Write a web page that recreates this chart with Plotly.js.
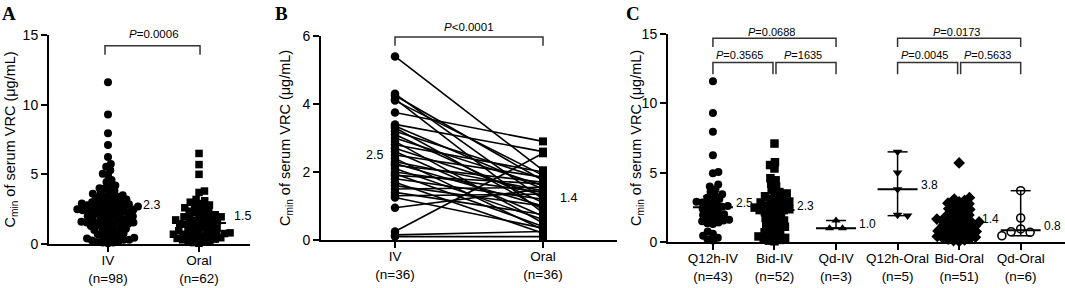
<!DOCTYPE html>
<html><head><meta charset="utf-8">
<script src="https://cdn.plot.ly/plotly-3.0.1.min.js"></script>
<style>html,body{margin:0;padding:0;background:#fff}#chart{width:1065px;height:288px}</style>
</head><body><div id="chart"></div>
<script>
// ---------------- DATA ----------------
// Panel C groups (Panel A = IV groups pooled / Oral groups pooled)
const q12hIV = [11.6, 9.3, 7.95, 6.25, 5.05, 4.95, 4.15, 4.0, 3.8, 3.6, 3.45, 3.35, 3.2, 3.1, 3.0, 2.9, 2.85, 2.75, 2.7, 2.6, 2.55, 2.5, 2.4, 2.3, 2.2, 2.1, 2.0, 1.95, 1.85, 1.8, 1.7, 1.6, 1.55, 1.5, 1.4, 1.35, 1.3, 0.75, 0.6, 0.45, 0.3, 0.2, 0.1];
const bidIV = [7.1, 5.75, 5.55, 5.3, 4.6, 4.45, 4.2, 4.0, 3.75, 3.6, 3.5, 3.4, 3.3, 3.2, 3.1, 3.0, 2.92, 2.85, 2.78, 2.7, 2.62, 2.55, 2.48, 2.42, 2.36, 2.3, 2.3, 2.21, 2.15, 2.0, 1.95, 1.8, 1.74, 1.6, 1.55, 1.45, 1.3, 1.25, 1.1, 1.05, 0.95, 0.85, 0.7, 0.65, 0.55, 0.45, 0.4, 0.3, 0.25, 0.15, 0.1, 0.05];
const qdIV = [1.0, 1.55, 1.0];
const q12hOral = [6.5, 5.0, 3.8, 1.9, 1.95];
const bidOral = [5.7, 3.2, 3.1, 3.0, 2.9, 2.8, 2.75, 2.65, 2.6, 2.5, 2.4, 2.35, 2.25, 2.2, 2.1, 2.0, 1.95, 1.85, 1.8, 1.7, 1.65, 1.6, 1.5, 1.45, 1.42, 1.4, 1.35, 1.3, 1.2, 1.15, 1.1, 1.0, 0.95, 0.9, 0.85, 0.8, 0.75, 0.7, 0.65, 0.6, 0.55, 0.5, 0.45, 0.4, 0.35, 0.3, 0.25, 0.2, 0.15, 0.1, 0.05];
const qdOral = [3.7, 1.73, 0.94, 0.45, 0.7, 0.74];

// Panel B paired values (IV vs Oral, same patient)
const pairIV   = [5.4, 4.3, 4.25, 4.15, 4.1, 3.75, 3.4, 3.35, 3.3, 3.2, 3.1, 3.0, 2.9, 2.8, 2.7, 2.6, 2.5, 2.4, 2.3, 2.25, 2.2, 2.1, 2.0, 1.95, 1.9, 1.8, 1.7, 1.6, 1.5, 1.4, 1.3, 1.25, 0.95, 0.25, 0.15, 0.1];
const pairOral = [2.05, 1.2, 1.75, 0.8, 1.9, 2.9, 2.6, 1.5, 0.9, 1.8, 1.1, 1.6, 0.5, 2.0, 1.3, 0.7, 1.85, 0.3, 1.45, 1.0, 1.7, 0.6, 1.4, 0.4, 1.65, 1.2, 0.2, 1.0, 1.55, 0.75, 1.35, 0.35, 1.5, 2.55, 0.25, 0.1];

// summary values
const medA = [2.3, 1.5], lowA = [1.4, 0.7], highA = [3.1, 2.3];
const medLabelB = ['2.5', '1.4'], medLabelBy = [2.5, 1.25];
const medC  = [2.5, 2.3, 1.0, 3.8, 1.4, 0.84];
const lowC  = [1.5, 1.0, 1.0, 1.9, 0.5, 0.45];
const highC = [3.3, 3.0, 1.55, 6.5, 2.1, 3.7];

// tick labels
const ticksA = ['IV<br>(n=98)', 'Oral<br>(n=62)'];
const ticksB = ['IV<br>(n=36)', 'Oral<br>(n=36)'];
const ticksC = ['Q12h-IV<br>(n=43)', 'Bid-IV<br>(n=52)', 'Qd-IV<br>(n=3)', 'Q12h-Oral<br>(n=5)', 'Bid-Oral<br>(n=51)', 'Qd-Oral<br>(n=6)'];

// p-values
const pA = 'P=0.0006';
const pB = 'P<0.0001';
const pC = [[1, 3, '=0.0688', 'big'], [1, 2, '=0.3565', 'L'], [2, 3, '=1635', 'R'], [4, 6, '=0.0173', 'big'], [4, 5, '=0.0045', 'L'], [5, 6, '=0.5633', 'R']];

// ---------------- LAYOUT GEOMETRY ----------------
const W = 1065, H = 288;
const P = {
  A: {x0: 49, x1: 250, yb: 244, yt: 35, xr: [0.352, 2.56], yr: [0, 15]},
  B: {x0: 321, x1: 617, yb: 240, yt: 36, xr: [0.5, 2.5], yr: [0, 6]},
  C: {x0: 668, x1: 1065, yb: 242, yt: 34, xr: [0.27, 6.72], yr: [0, 15]}
};
for (const k in P) {
  const p = P[k];
  p.xppu = (p.x1 - p.x0) / (p.xr[1] - p.xr[0]);
  p.yppu = (p.yb - p.yt) / (p.yr[1] - p.yr[0]);
}

// beeswarm layout: horizontal pixel offsets so markers don't overlap too much
function swarm(vals, yppu, d, desc) {
  const order = vals.map((v, i) => i).sort((a, b) => desc ? vals[b] - vals[a] : vals[a] - vals[b]);
  const placed = [];
  const off = new Array(vals.length).fill(0);
  let flip = 1;
  for (const i of order) {
    const y = vals[i] * yppu;
    const cands = [0];
    for (const p of placed) {
      const dy = Math.abs(p.y - y);
      if (dy < d) { const dx = Math.sqrt(d * d - dy * dy); cands.push(p.x + dx + 0.01, p.x - dx - 0.01); }
    }
    cands.sort((a, b) => (Math.abs(a) - Math.abs(b)) || (flip * (b - a)));
    let c0 = 0;
    for (const c of cands) {
      let ok = true;
      for (const p of placed) { const dx = p.x - c, dy = p.y - y; if (dx * dx + dy * dy < d * d - 0.05) { ok = false; break; } }
      if (ok) { c0 = c; break; }
    }
    placed.push({x: c0, y}); off[i] = c0; flip = -flip;
  }
  return off;
}

const BLACK = '#000';
const traces = [], shapes = [], ann = [];

function swarmTrace(vals, pos, panel, xa, ya, symbol, size, d, desc) {
  const p = P[panel];
  const off = swarm(vals, p.yppu, d, desc);
  const open = symbol.indexOf('open') >= 0;
  traces.push({
    type: 'scatter', mode: 'markers', xaxis: xa, yaxis: ya, cliponaxis: false, hoverinfo: 'y',
    x: vals.map((v, i) => pos + off[i] / p.xppu), y: vals,
    marker: {symbol, size, color: BLACK, line: {width: open ? 1.6 : 0, color: BLACK}}
  });
}

function seg(xref, yref, x0, y0, x1, y1, w) {
  shapes.push({type: 'line', xref, yref, x0, y0, x1, y1, line: {color: BLACK, width: w}, layer: 'above'});
}

function summary(panel, xref, yref, pos, med, lo, hi, hwMed, hwCap, wMed, wErr) {
  const p = P[panel];
  seg(xref, yref, pos, lo, pos, hi, wErr);
  seg(xref, yref, pos - hwCap / p.xppu, lo, pos + hwCap / p.xppu, lo, wErr);
  seg(xref, yref, pos - hwCap / p.xppu, hi, pos + hwCap / p.xppu, hi, wErr);
  seg(xref, yref, pos - hwMed / p.xppu, med, pos + hwMed / p.xppu, med, wMed);
}

function bracket(xref, yref, xa, xb, yTop, yLeg, color) {
  shapes.push({type: 'path', xref, yref, layer: 'above',
    path: `M ${xa},${yLeg} L ${xa},${yTop} L ${xb},${yTop} L ${xb},${yLeg}`,
    line: {color: color, width: 1.5}});
}

function paperY(px) { return 1 - px / H; }

// ---------------- PANEL A ----------------
const poolIV = q12hIV.concat(bidIV, qdIV);
const poolOral = q12hOral.concat(bidOral, qdOral);
swarmTrace(poolIV, 1, 'A', 'x', 'y', 'circle', 8, 5.4, false);
swarmTrace(poolOral, 2, 'A', 'x', 'y', 'square', 7.5, 5.6, false);
[0, 1].forEach(i => {
  summary('A', 'x', 'y', i + 1, medA[i], lowA[i], highA[i], 27, 13, 2, 1.5);
  ann.push({xref: 'x', yref: 'y', x: i + 1 + 33 / P.A.xppu, y: medA[i], yshift: 7, xanchor: 'left', yanchor: 'middle',
    text: medA[i].toFixed(1), showarrow: false, font: {size: 12.5}});
});
bracket('x', 'y', 1 - 3 / P.A.xppu, 2 + 1 / P.A.xppu, 14.23, 13.59, '#333');
ann.push({xref: 'x', yref: 'paper', x: 1.5, y: paperY(34), xanchor: 'center', yanchor: 'middle',
  text: '<i>P</i>' + pA.slice(1), showarrow: false, font: {size: 11.5}});

// ---------------- PANEL B ----------------
const lx = [], ly = [];
pairIV.forEach((v, i) => { lx.push(1, 2, null); ly.push(v, pairOral[i], null); });
traces.push({type: 'scatter', mode: 'lines', xaxis: 'x2', yaxis: 'y2', x: lx, y: ly, cliponaxis: false,
  line: {color: BLACK, width: 1.6}, hoverinfo: 'skip'});
traces.push({type: 'scatter', mode: 'markers', xaxis: 'x2', yaxis: 'y2', cliponaxis: false,
  x: pairIV.map(() => 1), y: pairIV, marker: {symbol: 'circle', size: 8.5, color: BLACK}});
traces.push({type: 'scatter', mode: 'markers', xaxis: 'x2', yaxis: 'y2', cliponaxis: false,
  x: pairOral.map(() => 2), y: pairOral, marker: {symbol: 'square', size: 8, color: BLACK}});
ann.push({xref: 'x2', yref: 'y2', x: 1 - 10 / P.B.xppu, y: medLabelBy[0], xanchor: 'right', yanchor: 'middle',
  text: medLabelB[0], showarrow: false, font: {size: 12.5}});
ann.push({xref: 'x2', yref: 'y2', x: 2 + 15 / P.B.xppu, y: medLabelBy[1], xanchor: 'left', yanchor: 'middle',
  text: medLabelB[1], showarrow: false, font: {size: 12.5}});
bracket('x2', 'y2', 1, 2, 5.97, 5.71, '#333');
ann.push({xref: 'x2', yref: 'paper', x: 1.5, y: paperY(27), xanchor: 'center', yanchor: 'middle',
  text: '<i>P</i>' + pB.slice(1), showarrow: false, font: {size: 11.5}});

// ---------------- PANEL C ----------------
const groupsC = [q12hIV, bidIV, qdIV, q12hOral, bidOral, qdOral];
const symC = ['circle', 'square', 'triangle-up', 'triangle-down', 'diamond', 'circle-open'];
const sizeC = [8, 8.5, 8, 8.5, 9, 8];
groupsC.forEach((g, i) => {
  const small = g.length <= 6;
  swarmTrace(g, i + 1, 'C', 'x3', 'y3', symC[i], sizeC[i], small ? 10 : 5.6, small);
  summary('C', 'x3', 'y3', i + 1, medC[i], lowC[i], highC[i], 20, 10, 2, 1.5);
  ann.push({xref: 'x3', yref: 'y3', x: i + 1 + 21 / P.C.xppu, y: medC[i], yshift: 4, xanchor: 'left', yanchor: 'middle',
    text: medC[i].toFixed(1), showarrow: false, font: {size: 12}});
});
pC.forEach(b => {
  const big = b[3] === 'big';
  let xa = b[0], xb = b[1];
  if (b[3] === 'L') xb -= 1.5 / P.C.xppu;
  if (b[3] === 'R') xa += 1.5 / P.C.xppu;
  bracket('x3', 'y3', xa, xb, big ? 14.7 : 12.95, big ? 14.06 : 12.1, '#333');
  ann.push({xref: 'x3', yref: 'paper', x: (xa + xb) / 2 - 3 / P.C.xppu, y: paperY(big ? 32 : 55), xanchor: 'center', yanchor: 'middle',
    text: '<i>P</i>' + b[2], showarrow: false, font: {size: 11}});
});

// ---------------- PANEL LETTERS & Y TITLES ----------------
[['A', 0], ['B', 273], ['C', 624]].forEach(l => ann.push({xref: 'paper', yref: 'paper', x: l[1] / W, y: paperY(1),
  xanchor: 'left', yanchor: 'top', text: '<b>' + l[0] + '</b>', showarrow: false,
  font: {family: 'Liberation Serif, Times New Roman, serif', size: 19, color: BLACK}}));
const ytitle = 'C<sub>min</sub> of serum VRC (μg/mL)';
[['A', 10], ['B', 286], ['C', 637]].forEach(t => {
  const p = P[t[0]];
  ann.push({xref: 'paper', yref: 'paper', x: t[1] / W, y: paperY((p.yb + p.yt) / 2), xanchor: 'center', yanchor: 'middle',
    textangle: -90, text: ytitle, showarrow: false, font: {size: 14.5}});
});

// ---------------- AXES ----------------
function xax(p, vals, text, anchor, fs) {
  return {domain: [p.x0 / W, p.x1 / W], range: p.xr, tickmode: 'array', tickvals: vals, ticktext: text,
    showline: true, linewidth: 2, linecolor: BLACK, ticks: 'outside', ticklen: 6, tickwidth: 2, tickcolor: BLACK,
    ticklabelstandoff: -3,
    showgrid: false, zeroline: false, anchor, tickfont: {size: fs, color: BLACK}, fixedrange: true};
}
function yax(p, vals, anchor) {
  return {domain: [1 - p.yb / H, 1 - p.yt / H], range: p.yr, tickmode: 'array', tickvals: vals,
    showline: true, linewidth: 2, linecolor: BLACK, ticks: 'outside', ticklen: 6, tickwidth: 2, tickcolor: BLACK,
    showgrid: false, zeroline: false, anchor, tickfont: {size: 14, color: BLACK}, fixedrange: true};
}

const layout = {
  width: W, height: H, margin: {l: 0, r: 0, t: 0, b: 0}, showlegend: false,
  paper_bgcolor: '#fff', plot_bgcolor: 'rgba(0,0,0,0)',
  font: {family: 'Liberation Sans, Arial, Helvetica, sans-serif', size: 14, color: BLACK},
  xaxis: xax(P.A, [1, 2], ticksA, 'y', 13.5),
  yaxis: yax(P.A, [0, 5, 10, 15], 'x'),
  xaxis2: xax(P.B, [1, 2], ticksB, 'y2', 13.5),
  yaxis2: yax(P.B, [0, 2, 4, 6], 'x2'),
  xaxis3: xax(P.C, [1, 2, 3, 4, 5, 6], ticksC, 'y3', 13.5),
  yaxis3: yax(P.C, [0, 5, 10, 15], 'x3'),
  shapes, annotations: ann
};

Plotly.newPlot('chart', traces, layout, {displayModeBar: false, staticPlot: true});
</script>
</body></html>
